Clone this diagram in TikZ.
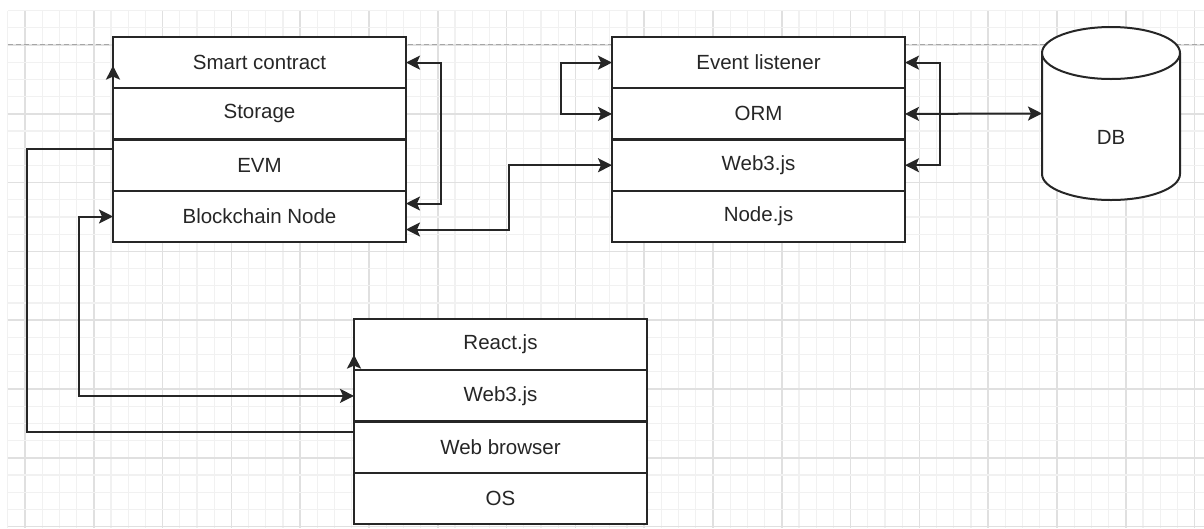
\documentclass[tikz,border=0pt]{standalone}
\usepackage{fontspec}
\setmainfont{Liberation Sans}
\usetikzlibrary{positioning,arrows.meta}

\begin{document}
\begin{tikzpicture}[x=1pt, y=-1pt,
        >={Stealth[length=14pt, width=14pt, inset=3pt]},
        layer/.style={draw=black!85, fill=white, line width=2.2pt, minimum width=293pt, minimum height=51.3pt, inner sep=0pt, outer sep=0pt, text=black!85, font=\fontsize{20.5}{24}\selectfont},
        link/.style={draw=black!85, line width=2pt, <->},
        minorline/.style={draw=gray!11, line width=1.2pt},
        majorline/.style={draw=gray!24, line width=1.7pt}]
        \useasboundingbox (0,0) rectangle (1204,528);

        % grid of the canvas
        \foreach \i in {0,...,69} {
            \pgfmathtruncatemacro{\m}{mod(\i+3,4)}
            \ifnum\m=0 \def\gs{majorline}\else \def\gs{minorline}\fi
            \draw[\gs] ({7.8+17.2*\i},10.6) -- ({7.8+17.2*\i},528);
        }
        \foreach \j in {0,...,30} {
            \pgfmathtruncatemacro{\m}{mod(\j+2,4)}
            \ifnum\m=0 \def\gs{majorline}\else \def\gs{minorline}\fi
            \draw[\gs] (7.8,{10.6+17.2*\j}) -- (1204,{10.6+17.2*\j});
        }
        \draw[gray!70, line width=1pt, dash pattern=on 5pt off 3pt] (7.8,44.5) -- (1204,44.5);

        % blockchain stack
        \node[layer] (sc) at (259.5,62.6) {Smart contract};
        \node[layer, below=0pt of sc] (storage) {Storage};
        \node[layer, below=0pt of storage] (evm) {EVM};
        \node[layer, below=0pt of evm] (bnode) {Blockchain Node};

        % backend stack
        \node[layer] (evl) at (758.5,62.6) {Event listener};
        \node[layer, below=0pt of evl] (orm) {ORM};
        \node[layer, below=0pt of orm] (wthree) {Web3.js};
        \node[layer, below=0pt of wthree] (nodejs) {Node.js};

        % client stack
        \node[layer] (react) at (500.5,344.6) {React.js};
        \node[layer, below=0pt of react] (wthreeb) {Web3.js};
        \node[layer, below=0pt of wthreeb] (browser) {Web browser};
        \node[layer, below=0pt of browser] (os) {OS};

        % database
        \node[minimum width=138pt, minimum height=173pt, inner sep=0pt, outer sep=0pt] (db) at (1111,113.5) {};
        \draw[draw=black!85, fill=white, line width=2pt] ([yshift=-26pt]db.north west) -- ([yshift=26pt]db.south west)
            arc[start angle=180, end angle=360, x radius=69pt, y radius=26pt] -- ([yshift=-26pt]db.north east);
        \draw[draw=black!85, fill=white, line width=2pt] ([yshift=-26pt]db.north) ellipse[x radius=69pt, y radius=26pt];
        \node[text=black!85, font=\fontsize{20.5}{24}\selectfont] (dblabel) at (1111,137) {DB};

        % connectors
        \draw[link] (sc.east) -- ++(35pt,0) |- ([yshift=13pt]bnode.east);
        \draw[link] (wthree.west) -- ++(-103pt,0) |- ([yshift=-13pt]bnode.east);
        \draw[link] (evl.west) -- ++(-51pt,0) |- (orm.west);
        \draw[link] (evl.east) -- ++(35pt,0) |- (wthree.east);
        \draw[link] (orm.east) -- (db.west);
        \draw[link] (bnode.west) -- ++(-34pt,0) |- (wthreeb.west);
        \draw[link] ([yshift=-3pt]sc.west) -- ([yshift=-9pt]evm.north west) -- ++(-86pt,0)
            |- ([yshift=-10pt]browser.north west) -- ([yshift=-10pt]react.west);
    \end{tikzpicture}
\end{document}
